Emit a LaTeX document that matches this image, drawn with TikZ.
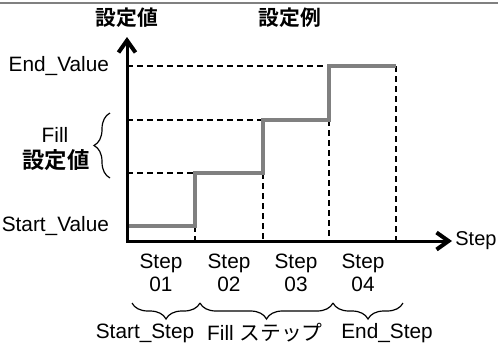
\documentclass[tikz,border=0pt]{standalone}
\usepackage{fontspec}
\setmainfont{Liberation Sans}
\newfontfamily\jpfont{Noto Sans CJK JP}[BoldFont={Noto Sans CJK JP Bold}]
\usetikzlibrary{arrows.meta, positioning, decorations.pathreplacing}

\begin{document}
\begin{tikzpicture}[x=0.5pt, y=-0.5pt, font=\fontsize{10.4}{11.5}\selectfont,
		axis/.style={line width=1.5pt},
		guide/.style={line width=0.6pt, dash pattern=on 3pt off 2pt},
		stair/.style={line width=1.6pt, draw=black!50},
		brc/.style={line width=0.6pt, decorate, decoration={brace, amplitude=8pt}},
		jbold/.style={font=\fontsize{10.4}{11.5}\selectfont\jpfont\bfseries}]
			\useasboundingbox (0,0) rectangle (498,344);
			% Paths, nodes and wires:
			\draw[line width=1pt, black!50] (0,3) -- (498,3);
			\coordinate (O) at (127, 241);
			\coordinate (ytip) at (127, 37);
			\coordinate (xtip) at (452, 241);
			\node[jbold] (ylab) at (127, 18){設定値};
			\node[jbold] (title) at (290, 18){設定例};
			% guide lines
			\draw[guide] (127, 66) -- (396, 66);
			\draw[guide] (127, 120) -- (263, 120);
			\draw[guide] (127, 173) -- (195, 173);
			\draw[guide] (195, 226) -- (195, 241);
			\draw[guide] (263, 173) -- (263, 241);
			\draw[guide] (329, 120) -- (329, 241);
			\draw[guide] (396, 66) -- (396, 241);
			\draw[stair] (129, 226) -| (195, 173) -| (263, 120) -| (329, 66) -- (396, 66);
			\draw[axis, {Straight Barb[length=6pt, width=8.5pt, line width=2pt]}-{Straight Barb[length=6pt, width=8.5pt, line width=2pt]}] (ytip) |- (xtip);
			\node[anchor=west, inner sep=0pt, font=\fontsize{10}{11}\selectfont] (xlab) at (455, 241){Step};
			\node[anchor=east] (endv) at (116, 66){End\_Value};
			\node[anchor=east] (startv) at (116, 226){Start\_Value};
			\draw[brc] (110, 178) -- (110, 113);
			\node (fill) at (55, 135){Fill};
			\node[jbold, font=\fontsize{11.2}{12}\selectfont\jpfont\bfseries] (fillv) at (56, 160){設定値};
			\node[align=center] (st1) at (161, 273){Step\\01};
			\node[align=center] (st2) at (229, 273){Step\\02};
			\node[align=center] (st3) at (296, 273){Step\\03};
			\node[align=center] (st4) at (363, 273){Step\\04};
			\draw[brc] (200, 303) -- (132, 303);
			\draw[brc] (333, 303) -- (200, 303);
			\draw[brc] (403, 303) -- (333, 303);
			\node (sstep) at (145, 333){Start\_Step};
			\node (fstep) at (265, 333){Fill {\jpfont ステップ}};
			\node (estep) at (387, 333){End\_Step};
		\end{tikzpicture}
\end{document}
